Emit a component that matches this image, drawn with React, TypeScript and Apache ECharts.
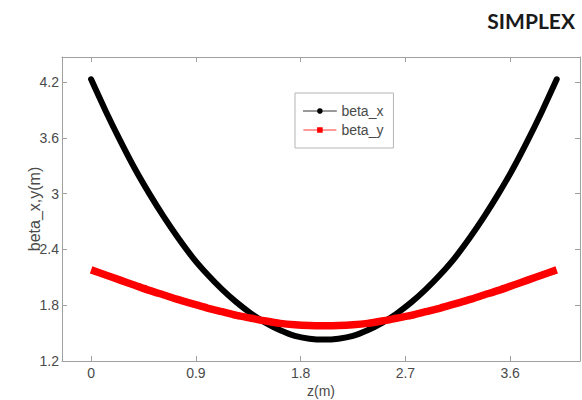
import React, { useEffect, useRef } from "react";
import * as echarts from "echarts";

const zValues = [
  0, 0.125, 0.25, 0.375, 0.5, 0.625, 0.75, 0.875, 1, 1.125, 1.25, 1.375, 1.5, 1.625, 1.75, 1.875, 2,
  2.125, 2.25, 2.375, 2.5, 2.625, 2.75, 2.875, 3, 3.125, 3.25, 3.375, 3.5, 3.625, 3.75, 3.875, 4,
];
const betaX = [
  4.23, 3.89, 3.57, 3.27, 3.0, 2.75, 2.52, 2.31, 2.13, 1.97, 1.83, 1.71, 1.61, 1.53, 1.47, 1.44, 1.43,
  1.44, 1.47, 1.53, 1.61, 1.71, 1.83, 1.97, 2.13, 2.31, 2.52, 2.75, 3.0, 3.27, 3.57, 3.89, 4.23,
];
const betaY = [
  2.18, 2.125, 2.07, 2.015, 1.96, 1.91, 1.86, 1.815, 1.77, 1.73, 1.69, 1.66, 1.63, 1.605, 1.59, 1.582, 1.58,
  1.582, 1.59, 1.605, 1.63, 1.66, 1.69, 1.73, 1.77, 1.815, 1.86, 1.91, 1.96, 2.015, 2.07, 2.125, 2.18,
];
const xTicks = [0, 0.9, 1.8, 2.7, 3.6];
const yTicks = [1.2, 1.8, 2.4, 3, 3.6, 4.2];
const seriesNames = ["beta_x", "beta_y"];
const titleText = "SIMPLEX";
const xName = "z(m)";
const yName = "beta_x,y(m)";

export default function App() {
  const ref = useRef<HTMLDivElement>(null);
  useEffect(() => {
    if (!ref.current) return;
    const chart = echarts.init(ref.current, null, { renderer: "svg" });
    const font = "'Liberation Sans', Arial, sans-serif";
    const axisColor = "#a0a0a0";
    const textColor = "#4a4a4a";
    const xAxisBase = {
      type: "value",
      min: -0.25,
      max: 4.2,
      splitLine: { show: false },
      axisLine: { show: true, onZero: false, lineStyle: { color: axisColor, width: 1 } },
      axisTick: { show: true, inside: true, length: 5, customValues: xTicks, lineStyle: { color: axisColor } },
    };
    const yAxisBase = {
      type: "value",
      min: 1.2,
      max: 4.47,
      splitLine: { show: false },
      axisLine: { show: true, onZero: false, lineStyle: { color: axisColor, width: 1 } },
      axisTick: { show: true, inside: true, length: 5, customValues: yTicks, lineStyle: { color: axisColor } },
    };
    chart.setOption({
      animation: false,
      backgroundColor: "#fff",
      textStyle: { fontFamily: font },
      title: {
        text: titleText,
        right: 2,
        top: 5,
        textStyle: { fontFamily: "Lato, 'Open Sans', sans-serif", fontWeight: "bold", fontSize: 21, color: "#1a1a1a" },
      },
      grid: { left: 62, right: 2, top: 57, bottom: 39, containLabel: false, outerBoundsMode: "none" },
      legend: {
        orient: "vertical",
        left: 295,
        top: 93,
        data: seriesNames,
        padding: [11, 10, 11, 8],
        itemGap: 5,
        itemWidth: 33,
        itemHeight: 7,
        borderColor: "#b5b5b5",
        borderWidth: 1,
        backgroundColor: "#fff",
        lineStyle: { width: 0.8 },
        textStyle: { fontSize: 14, color: textColor, fontFamily: font },
      },
      xAxis: [
        {
          ...xAxisBase,
          position: "bottom",
          name: xName,
          nameLocation: "middle",
          nameGap: 23,
          nameMoveOverlap: false,
          nameTextStyle: { fontSize: 14, color: textColor, fontFamily: font },
          axisLabel: { show: true, customValues: xTicks, margin: 5, fontSize: 14, color: textColor, fontFamily: font },
        },
        { ...xAxisBase, position: "top", axisLabel: { show: false } },
      ],
      yAxis: [
        {
          ...yAxisBase,
          position: "left",
          name: yName,
          nameLocation: "middle",
          nameGap: 20,
          nameMoveOverlap: false,
          nameTextStyle: { fontSize: 16, color: textColor, fontFamily: font },
          axisLabel: { show: true, customValues: yTicks, margin: 3, fontSize: 14, color: textColor, fontFamily: font },
        },
        { ...yAxisBase, position: "right", axisLabel: { show: false } },
      ],
      series: [
        {
          name: seriesNames[0],
          type: "line",
          data: zValues.map((z, i) => [z, betaX[i]]),
          smooth: 0.3,
          symbol: "circle",
          showSymbol: false,
          color: "#000",
          lineStyle: { color: "#000", width: 6, cap: "round" },
          itemStyle: { color: "#000" },
        },
        {
          name: seriesNames[1],
          type: "line",
          data: zValues.map((z, i) => [z, betaY[i]]),
          smooth: 0.3,
          symbol: "rect",
          showSymbol: false,
          color: "#f00",
          lineStyle: { color: "#f00", width: 7.5 },
          itemStyle: { color: "#f00" },
        },
      ],
    });
    return () => chart.dispose();
  }, []);
  return <div ref={ref} style={{ position: "fixed", left: 0, top: 0, width: 582, height: 400 }} />;
}
